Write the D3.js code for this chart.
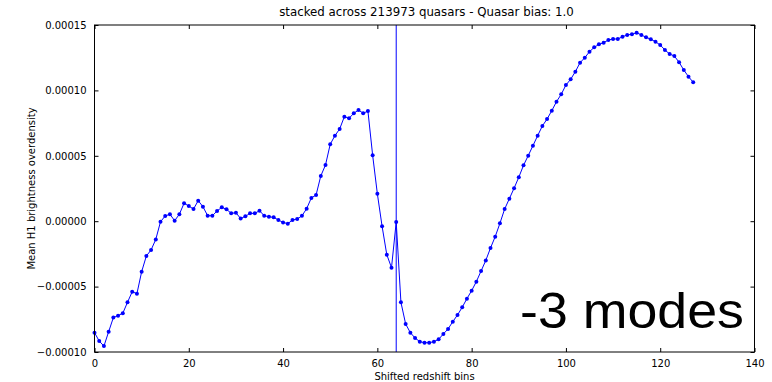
<!DOCTYPE html>
<html>
<head>
<meta charset="utf-8">
<script src="https://cdn.jsdelivr.net/npm/d3@7"></script>
<style>
  html, body { margin: 0; padding: 0; background: #fff; }
  svg { display: block; }
  text { fill: #000; }
</style>
</head>
<body>
<svg id="chart" width="772" height="382"></svg>
<script>
// ---- data ----
const title = "stacked across 213973 quasars - Quasar bias: 1.0";
const xLabel = "Shifted redshift bins";
const yLabel = "Mean H1 brightness overdensity";
const annotation = "-3 modes";
const markerBin = 64;

const overdensity = [
  -8.52e-5, -9.16e-5, -9.55e-5, -8.45e-5, -7.37e-5, -7.22e-5, -7.04e-5, -6.20e-5, -5.39e-5, -5.54e-5,
  -3.86e-5, -2.66e-5, -2.20e-5, -1.39e-5, -0.04e-5, 0.40e-5, 0.53e-5, 0.04e-5, 0.53e-5, 1.37e-5,
  1.16e-5, 0.93e-5, 1.57e-5, 1.11e-5, 0.42e-5, 0.42e-5, 0.78e-5, 1.06e-5, 0.91e-5, 0.60e-5,
  0.65e-5, 0.20e-5, 0.37e-5, 0.60e-5, 0.60e-5, 0.80e-5, 0.42e-5, 0.34e-5, 0.30e-5, 0.09e-5,
  -0.09e-5, -0.19e-5, 0.09e-5, 0.17e-5, 0.41e-5, 0.96e-5, 1.78e-5, 2.00e-5, 3.46e-5, 4.30e-5,
  5.88e-5, 6.54e-5, 7.05e-5, 7.99e-5, 7.87e-5, 8.25e-5, 8.50e-5, 8.25e-5, 8.42e-5, 5.04e-5,
  2.10e-5, -0.38e-5, -2.56e-5, -3.55e-5, -0.06e-5, -6.20e-5, -7.86e-5, -8.52e-5, -8.93e-5, -9.21e-5,
  -9.29e-5, -9.29e-5, -9.21e-5, -9.03e-5, -8.62e-5, -8.24e-5, -7.68e-5, -7.17e-5, -6.58e-5, -5.92e-5,
  -5.31e-5, -4.62e-5, -3.81e-5, -3.00e-5, -2.05e-5, -1.18e-5, -0.16e-5, 0.93e-5, 1.72e-5, 2.52e-5,
  3.36e-5, 4.27e-5, 5.01e-5, 5.77e-5, 6.54e-5, 7.28e-5, 7.81e-5, 8.45e-5, 9.14e-5, 9.70e-5,
  10.41e-5, 10.85e-5, 11.43e-5, 12.12e-5, 12.50e-5, 12.96e-5, 13.29e-5, 13.52e-5, 13.65e-5, 13.85e-5,
  13.93e-5, 13.93e-5, 14.10e-5, 14.24e-5, 14.29e-5, 14.41e-5, 14.24e-5, 14.06e-5, 13.91e-5, 13.72e-5,
  13.47e-5, 13.09e-5, 12.78e-5, 12.63e-5, 12.15e-5, 11.56e-5, 11.05e-5, 10.62e-5
];
const bins = overdensity.map((_, i) => i);

const xTicks = [0, 20, 40, 60, 80, 100, 120, 140];
const yTicks = [-0.0001, -0.00005, 0, 0.00005, 0.0001, 0.00015];
const yTickLabels = ["\u22120.00010", "\u22120.00005", "0.00000", "0.00005", "0.00010", "0.00015"];

// ---- layout ----
const svg = d3.select("#chart");
const plotL = 94.5, plotR = 754.5, plotT = 25, plotB = 352;
const baseFont = "'DejaVu Sans', sans-serif";

const x = d3.scaleLinear().domain([0, 140]).range([plotL, plotR]);
const y = d3.scaleLinear().domain([-0.0001, 0.00015]).range([plotB, plotT]);

// data line
const line = d3.line().x((d, i) => x(bins[i])).y(d => y(d));
svg.append("path")
  .datum(overdensity)
  .attr("d", line)
  .attr("fill", "none")
  .attr("stroke", "#0000ff")
  .attr("stroke-width", 1);

svg.append("g").selectAll("circle")
  .data(overdensity)
  .join("circle")
  .attr("cx", (d, i) => x(bins[i]))
  .attr("cy", d => y(d))
  .attr("r", 2)
  .attr("fill", "#0000ff");

// vertical marker line
svg.append("line")
  .attr("x1", x(markerBin)).attr("x2", x(markerBin))
  .attr("y1", plotT).attr("y2", plotB)
  .attr("stroke", "#0000ff")
  .attr("stroke-width", 1);

// axes (matplotlib classic: inward ticks on all sides)
const tickLen = 4;
const xAxisB = d3.axisBottom(x).tickValues(xTicks).tickSizeInner(-tickLen).tickSizeOuter(0).tickPadding(8).tickFormat(d3.format("d"));
const xAxisT = d3.axisTop(x).tickValues(xTicks).tickSizeInner(-tickLen).tickSizeOuter(0).tickFormat("");
const yAxisL = d3.axisLeft(y).tickValues(yTicks).tickSizeInner(-tickLen).tickSizeOuter(0).tickPadding(8)
  .tickFormat((d, i) => yTickLabels[i]);
const yAxisR = d3.axisRight(y).tickValues(yTicks).tickSizeInner(-tickLen).tickSizeOuter(0).tickFormat("");

function styleAxis(g) {
  g.select(".domain").remove();
  g.selectAll("line").attr("stroke", "#000").attr("stroke-width", 1);
  g.selectAll("text").style("font-family", baseFont).style("font-size", "10px").attr("fill", "#000");
}
svg.append("g").attr("transform", `translate(0,${plotB})`).call(xAxisB).call(styleAxis);
svg.append("g").attr("transform", `translate(0,${plotT})`).call(xAxisT).call(styleAxis);
svg.append("g").attr("transform", `translate(${plotL},0)`).call(yAxisL).call(styleAxis);
svg.append("g").attr("transform", `translate(${plotR},0)`).call(yAxisR).call(styleAxis);

svg.append("rect")
  .attr("x", plotL).attr("y", plotT)
  .attr("width", plotR - plotL).attr("height", plotB - plotT)
  .attr("fill", "none").attr("stroke", "#000").attr("stroke-width", 1);

// title & labels
svg.append("text")
  .attr("x", (plotL + plotR) / 2 + 2).attr("y", 16)
  .attr("text-anchor", "middle")
  .style("font-family", baseFont).style("font-size", "11.8px")
  .text(title);

svg.append("text")
  .attr("x", (plotL + plotR) / 2).attr("y", 380)
  .attr("text-anchor", "middle")
  .style("font-family", baseFont).style("font-size", "10px")
  .text(xLabel);

svg.append("text")
  .attr("transform", `translate(35,${(plotT + plotB) / 2}) rotate(-90)`)
  .attr("text-anchor", "middle")
  .style("font-family", baseFont).style("font-size", "10px")
  .text(yLabel);

svg.append("text")
  .attr("x", 520).attr("y", 328)
  .style("font-family", "'Liberation Sans', Arial, sans-serif")
  .style("font-size", "50px")
  .attr("textLength", 224).attr("lengthAdjust", "spacingAndGlyphs")
  .text(annotation);
</script>
</body>
</html>
